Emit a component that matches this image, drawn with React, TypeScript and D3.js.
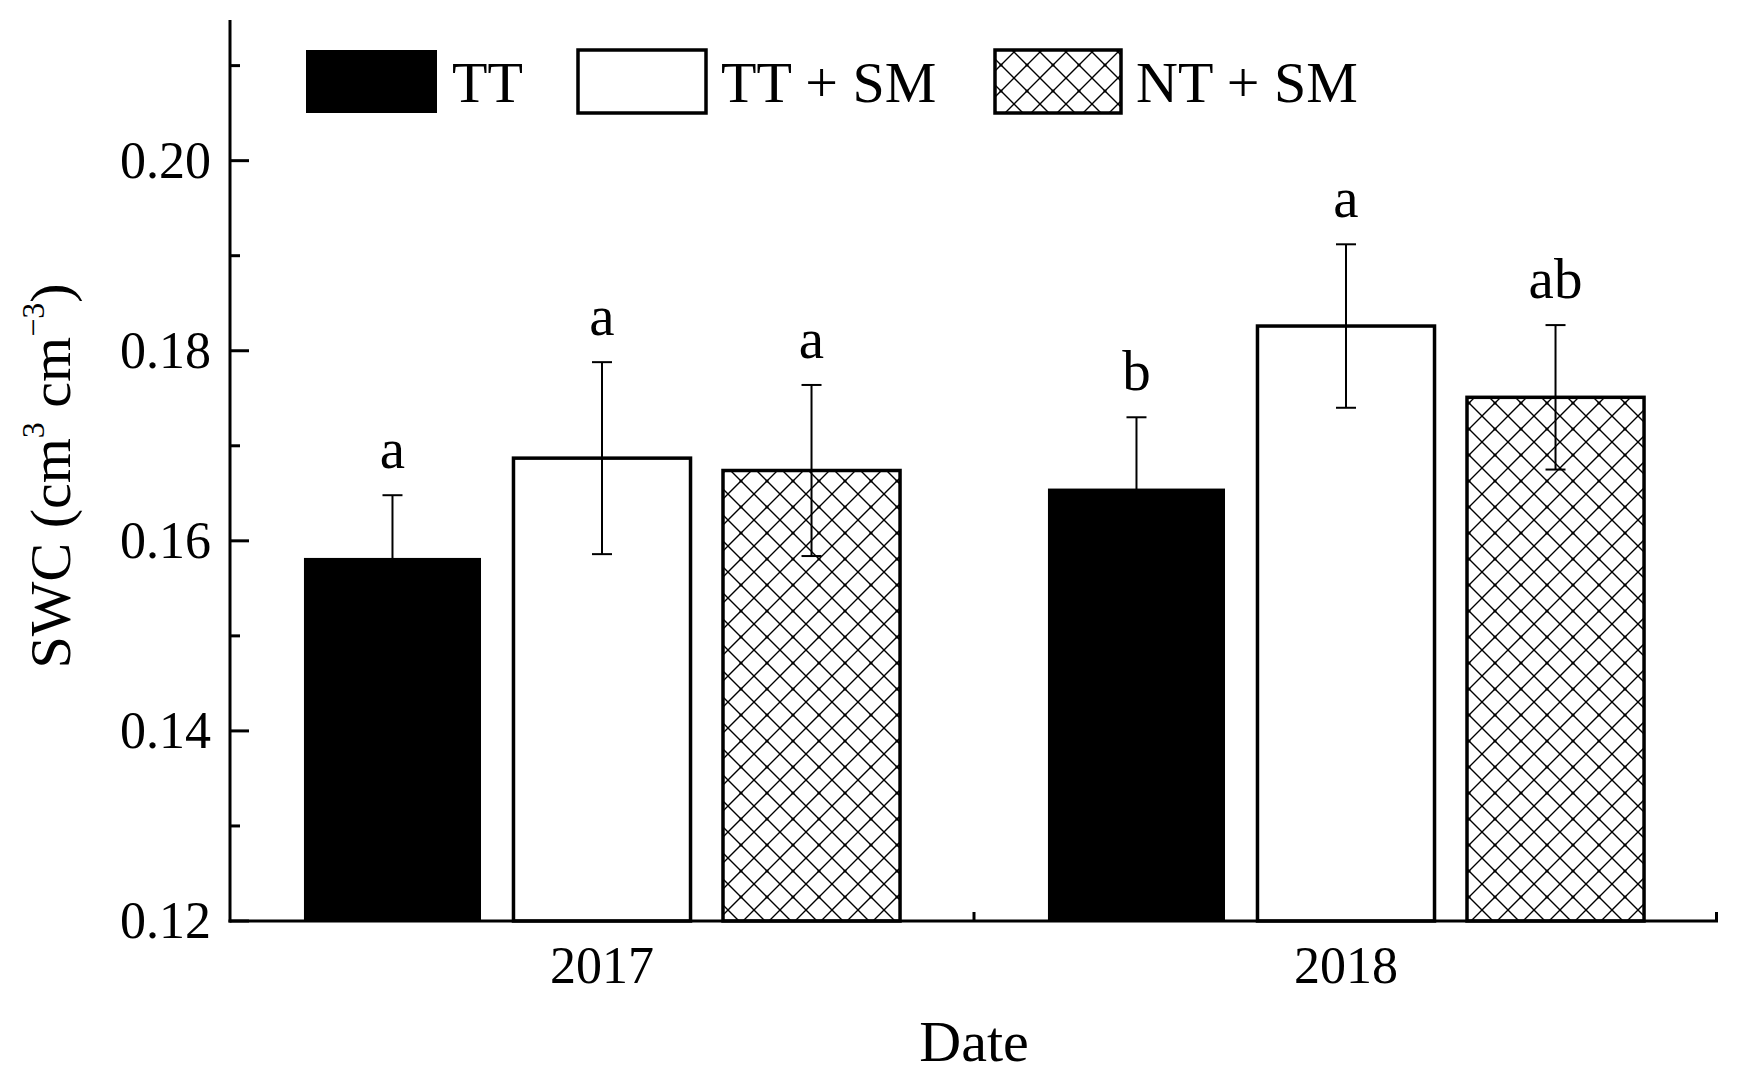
import { useRef, useEffect } from 'react'
import * as d3 from 'd3'

const YEARS = ['2017', '2018']
const SERIES = ['TT', 'TT + SM', 'NT + SM']
// mean SWC per series, by year
const TT = [0.1582, 0.1655]
const TT_SM = [0.1687, 0.1826]
const NT_SM = [0.1674, 0.1751]
// error bar half-width
const TT_ERR = [0.0066, 0.0075]
const TT_SM_ERR = [0.0101, 0.0086]
const NT_SM_ERR = [0.009, 0.0076]
// significance letters
const TT_SIG = ['a', 'b']
const TT_SM_SIG = ['a', 'a']
const NT_SM_SIG = ['a', 'ab']

const Y_MAJOR = [0.12, 0.14, 0.16, 0.18, 0.2]
const Y_MINOR = [0.13, 0.15, 0.17, 0.19, 0.21]

const FONT = '"Liberation Serif", "Times New Roman", serif'

export default function App() {
  const svgRef = useRef<SVGSVGElement | null>(null)

  useEffect(() => {
    if (!svgRef.current) return
    const svg = d3.select(svgRef.current)
    svg.selectAll('*').remove()

    const left = 230, right = 1718, top = 20, bottom = 921

    const defs = svg.append('defs')
    const s = 26
    const pat = defs.append('pattern')
      .attr('id', 'hatch').attr('patternUnits', 'userSpaceOnUse')
      .attr('width', s).attr('height', s)
    pat.append('rect').attr('width', s).attr('height', s).attr('fill', '#fff')
    pat.append('path')
      .attr('d', `M0,0L${s},${s}M${s},0L0,${s}`)
      .attr('stroke', '#000').attr('stroke-width', 1.4)
    pat.append('circle').attr('cx', s / 2).attr('cy', s / 2).attr('r', 1.6).attr('fill', '#000')

    const rows = SERIES.map((name, i) => ({
      name,
      vals: [TT, TT_SM, NT_SM][i],
      errs: [TT_ERR, TT_SM_ERR, NT_SM_ERR][i],
      sigs: [TT_SIG, TT_SM_SIG, NT_SM_SIG][i],
      fill: ['#000', '#fff', 'url(#hatch)'][i],
    }))

    const x0 = d3.scaleBand().domain(YEARS).range([left, right]).padding(0)
    const x1 = d3.scaleBand().domain(SERIES).range([0, x0.bandwidth()])
      .paddingInner(0.155).paddingOuter(0.353)
    const y = d3.scaleLinear().domain([0.12, 0.2148]).range([bottom, top])

    // Bars
    rows.forEach(r => {
      YEARS.forEach((yr, j) => {
        const bx = x0(yr)! + x1(r.name)!
        svg.append('rect')
          .attr('x', bx).attr('y', y(r.vals[j]))
          .attr('width', x1.bandwidth()).attr('height', bottom - y(r.vals[j]))
          .attr('fill', r.fill)
          .attr('stroke', '#000').attr('stroke-width', r.name === 'TT' ? 0 : 3.5)
      })
    })

    // Error bars + letters
    rows.forEach(r => {
      YEARS.forEach((yr, j) => {
        const cx = x0(yr)! + x1(r.name)! + x1.bandwidth() / 2
        const hi = y(r.vals[j] + r.errs[j])
        const lo = y(r.vals[j] - r.errs[j])
        svg.append('line').attr('x1', cx).attr('x2', cx).attr('y1', hi).attr('y2', lo)
          .attr('stroke', '#000').attr('stroke-width', 2)
        ;[hi, lo].forEach(v => {
          svg.append('line').attr('x1', cx - 10).attr('x2', cx + 10).attr('y1', v).attr('y2', v)
            .attr('stroke', '#000').attr('stroke-width', 2)
        })
        svg.append('text')
          .attr('x', cx).attr('y', hi - 27)
          .attr('text-anchor', 'middle').attr('font-size', 57).attr('font-family', FONT)
          .text(r.sigs[j])
      })
    })

    // Axes
    svg.append('line').attr('x1', left).attr('x2', left).attr('y1', top).attr('y2', bottom + 1.5)
      .attr('stroke', '#000').attr('stroke-width', 3)
    svg.append('line').attr('x1', left - 1.5).attr('x2', right).attr('y1', bottom).attr('y2', bottom)
      .attr('stroke', '#000').attr('stroke-width', 3)

    Y_MAJOR.forEach(v => {
      svg.append('line').attr('x1', left).attr('x2', left + 19).attr('y1', y(v)).attr('y2', y(v))
        .attr('stroke', '#000').attr('stroke-width', 3)
      svg.append('text')
        .attr('x', 211).attr('y', y(v) + 17)
        .attr('text-anchor', 'end').attr('font-size', 52).attr('font-family', FONT)
        .text(v.toFixed(2))
    })
    Y_MINOR.forEach(v => {
      svg.append('line').attr('x1', left).attr('x2', left + 10).attr('y1', y(v)).attr('y2', y(v))
        .attr('stroke', '#000').attr('stroke-width', 3)
    })

    // x ticks at band edges (inward)
    ;[x0(YEARS[1])!, right - 1.5].forEach(xv => {
      svg.append('line').attr('x1', xv).attr('x2', xv).attr('y1', bottom).attr('y2', bottom - 9)
        .attr('stroke', '#000').attr('stroke-width', 3)
    })
    YEARS.forEach(yr => {
      svg.append('text')
        .attr('x', x0(yr)! + x0.bandwidth() / 2).attr('y', 983)
        .attr('text-anchor', 'middle').attr('font-size', 52).attr('font-family', FONT)
        .text(yr)
    })

    // Axis titles
    svg.append('text')
      .attr('x', (left + right) / 2).attr('y', 1061)
      .attr('text-anchor', 'middle').attr('font-size', 58).attr('font-family', FONT)
      .text('Date')

    const yt = svg.append('text')
      .attr('transform', 'translate(70,476) rotate(-90)')
      .attr('text-anchor', 'middle').attr('font-size', 58).attr('font-family', FONT)
    yt.append('tspan').text('SWC (cm')
    yt.append('tspan').attr('dy', -26).attr('font-size', 32).text('3')
    yt.append('tspan').attr('dy', 26).text(' cm')
    yt.append('tspan').attr('dy', -26).attr('font-size', 32).text('\u22123')
    yt.append('tspan').attr('dy', 26).text(')')

    // Legend
    const legX = [306, 578, 995]
    const legW = [131, 128, 126]
    rows.forEach((r, i) => {
      svg.append('rect')
        .attr('x', legX[i]).attr('y', 50)
        .attr('width', legW[i]).attr('height', 63)
        .attr('fill', r.fill)
        .attr('stroke', '#000').attr('stroke-width', i === 0 ? 0 : 3.5)
      svg.append('text')
        .attr('x', legX[i] + legW[i] + 15).attr('y', 102)
        .attr('font-size', 58).attr('font-family', FONT)
        .text(r.name)
    })
  }, [])

  return (
    <svg
      ref={svgRef}
      width={1738}
      height={1090}
      style={{ position: 'absolute', left: 0, top: 0, background: '#fff' }}
    />
  )
}
